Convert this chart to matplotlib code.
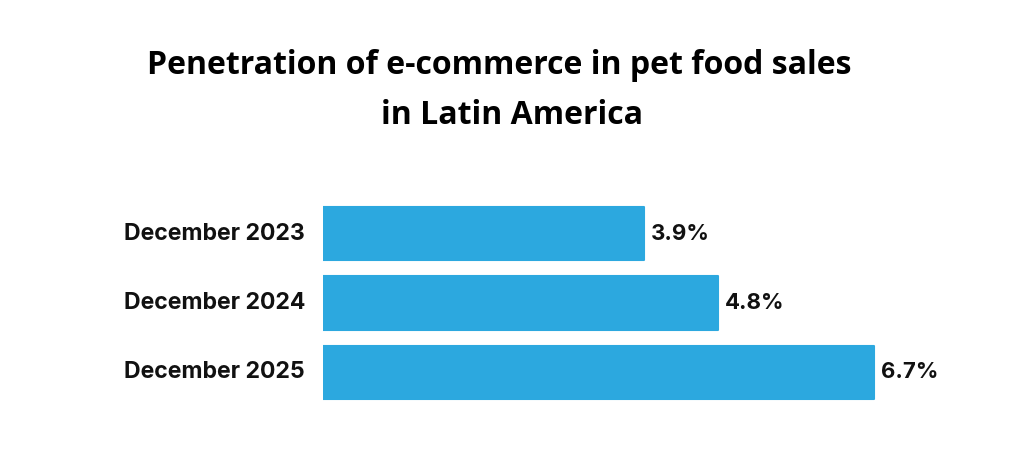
import matplotlib
matplotlib.use("Agg")
import matplotlib.pyplot as plt

categories = ["December 2023", "December 2024", "December 2025"]
values = [3.9, 4.8, 6.7]
value_labels = ["3.9%", "4.8%", "6.7%"]
title_lines = ["Penetration of e-commerce in pet food sales", "in Latin America"]

W, H = 1025, 462
fig = plt.figure(figsize=(W / 100, H / 100), dpi=100)
fig.patch.set_facecolor("white")

# axes: x=0 at pixel 323, 82.2 px per unit; y pitch 69.3 px
ax_left, ax_right = 323, 1025
ax_top, ax_bot = 164, 442
ax = fig.add_axes([ax_left / W, 1 - ax_bot / H, (ax_right - ax_left) / W, (ax_bot - ax_top) / H])
ax.set_xlim(0, (ax_right - ax_left) / 82.2)
ax.set_ylim(4.0, 0.0)
ax.axis("off")

color = "#2CA8DF"
pos = [1, 2, 3]
ax.barh(pos, values, height=0.77, color=color, edgecolor=color, linewidth=1.5,
        joinstyle="round")

label_font = "Inter"
for y, v, lab, cat in zip(pos, values, value_labels, categories):
    ax.annotate(lab, (v, y), xytext=(5.5, 0), textcoords="offset points",
                ha="left", va="center", fontsize=16, fontweight="bold",
                family=label_font, color="#111111")
    ax.annotate(cat, (0, y), xytext=(-13, 0), textcoords="offset points",
                ha="right", va="center", fontsize=16.6, fontweight="bold",
                family=label_font, color="#111111")

fig.text(499 / W, 1 - 65 / H, title_lines[0], ha="center", va="center",
         fontsize=23, fontweight="bold", family="Open Sans", color="black")
fig.text(512 / W, 1 - 116 / H, title_lines[1], ha="center", va="center",
         fontsize=23, fontweight="bold", family="Open Sans", color="black")

fig.savefig("out.png", dpi=100, facecolor="white")
